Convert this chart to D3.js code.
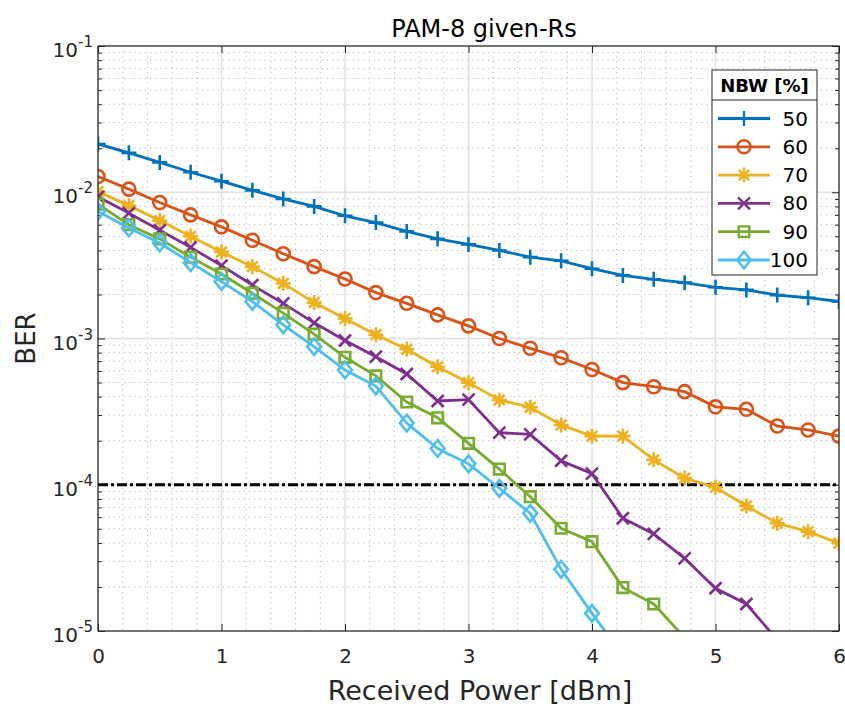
<!DOCTYPE html>
<html>
<head>
<meta charset="utf-8">
<script src="https://cdn.jsdelivr.net/npm/d3@7"></script>
<style>
  body { margin: 0; background: #fff; }
  svg { font-family: "DejaVu Sans", sans-serif; }
</style>
</head>
<body>
<div id="chart"></div>
<script>
// received power [dBm]
const power = [0, 0.25, 0.5, 0.75, 1, 1.25, 1.5, 1.75, 2, 2.25, 2.5, 2.75, 3,
               3.25, 3.5, 3.75, 4, 4.25, 4.5, 4.75, 5, 5.25, 5.5, 5.75, 6];

const nbw = ["50", "60", "70", "80", "90", "100"];

const ber50 = [0.0214, 0.0186, 0.0160, 0.0137, 0.0119, 0.0103, 0.0090, 0.0080, 0.0069,
               0.0062, 0.0054, 0.0048, 0.0044, 0.0040, 0.0036, 0.0034, 0.0030, 0.0027,
               0.00254, 0.00241, 0.00224, 0.00215, 0.00198, 0.00190, 0.00179];
const ber60 = [0.0128, 0.0105, 0.0085, 0.0070, 0.0058, 0.0047, 0.0038, 0.0031, 0.00255,
               0.00206, 0.00174, 0.00145, 0.00122, 0.00100, 0.000857, 0.000739, 0.000614,
               0.000499, 0.000468, 0.000433, 0.000341, 0.000328, 0.000252, 0.000237, 0.000215];
const ber70 = [0.0101, 0.0081, 0.0064, 0.0050, 0.0039, 0.0031, 0.00238, 0.00176, 0.00137,
               0.00106, 0.000844, 0.000641, 0.000499, 0.000380, 0.000339, 0.000256, 0.000215,
               0.000215, 0.000148, 0.000111, 0.0000961, 0.0000716, 0.0000545, 0.0000478, 0.0000398];
const ber80 = [0.0093, 0.0072, 0.0055, 0.0042, 0.00315, 0.00232, 0.00174, 0.00128, 0.000969,
               0.000751, 0.000572, 0.000374, 0.000382, 0.000227, 0.000221, 0.000146, 0.000119,
               0.0000590, 0.0000461, 0.0000314, 0.0000196, 0.0000153, 0.0000087];
const ber90 = [0.0083, 0.0060, 0.0048, 0.0036, 0.00276, 0.00204, 0.00149, 0.00107, 0.000744,
               0.000555, 0.000368, 0.000287, 0.000192, 0.000128, 0.0000829, 0.0000504, 0.0000408,
               0.0000198, 0.0000153, 0.0000090];
const ber100 = [0.0074, 0.0057, 0.0045, 0.0033, 0.00245, 0.00179, 0.00124, 0.000879, 0.000609,
                0.000473, 0.000264, 0.000177, 0.000139, 0.0000946, 0.0000638, 0.0000264, 0.0000132,
                0.0000068];

const berLimit = 1e-4;

const xTicks = [0, 1, 2, 3, 4, 5, 6];
const yTicks = [1e-5, 1e-4, 1e-3, 1e-2, 1e-1];

const colors = ["#0072BD", "#D95319", "#EDB120", "#7E2F8E", "#77AC30", "#4DBEEE"];
const markers = ["plus", "circle", "star", "cross", "square", "diamond"];
const seriesData = [ber50, ber60, ber70, ber80, ber90, ber100];

const W = 845, H = 709;
const plot = {left: 98, right: 839, top: 46, bottom: 631};

const svg = d3.select('#chart').append('svg').attr('width', W).attr('height', H);

const x = d3.scaleLinear().domain([0, 6]).range([plot.left, plot.right]);
const y = d3.scaleLog().domain([1e-5, 1e-1]).range([plot.bottom, plot.top]);

svg.append('defs').append('clipPath').attr('id', 'clip')
    .append('rect')
    .attr('x', plot.left).attr('y', plot.top)
    .attr('width', plot.right - plot.left).attr('height', plot.bottom - plot.top);

// minor grid
const minorX = d3.range(0, 6.001, 0.2).filter(v => Math.abs(v - Math.round(v)) > 1e-6);
const minorY = [];
[1e-5, 1e-4, 1e-3, 1e-2].forEach(d => { for (let k = 2; k <= 9; k++) minorY.push(d * k); });

const grid = svg.append('g');
grid.selectAll('.mx').data(minorX).enter().append('line')
    .attr('x1', d => x(d)).attr('x2', d => x(d))
    .attr('y1', plot.top).attr('y2', plot.bottom)
    .attr('stroke', '#b8b8b8').attr('stroke-width', 1).attr('stroke-dasharray', '1.2 4');
grid.selectAll('.my').data(minorY).enter().append('line')
    .attr('x1', plot.left).attr('x2', plot.right)
    .attr('y1', d => y(d)).attr('y2', d => y(d))
    .attr('stroke', '#b8b8b8').attr('stroke-width', 1).attr('stroke-dasharray', '1.2 4');
// major grid
grid.selectAll('.gx').data(xTicks).enter().append('line')
    .attr('x1', d => x(d)).attr('x2', d => x(d))
    .attr('y1', plot.top).attr('y2', plot.bottom)
    .attr('stroke', '#e0e0e0').attr('stroke-width', 1.5);
grid.selectAll('.gy').data(yTicks).enter().append('line')
    .attr('x1', plot.left).attr('x2', plot.right)
    .attr('y1', d => y(d)).attr('y2', d => y(d))
    .attr('stroke', '#e0e0e0').attr('stroke-width', 1.5);

// axes with inward ticks
const axisColor = '#262626';
const xAxis = svg.append('g').attr('transform', `translate(0, ${plot.bottom})`)
    .call(d3.axisBottom(x).tickValues(xTicks).tickSizeInner(-7).tickSizeOuter(0)
        .tickPadding(18).tickFormat(d3.format('d')));
const xAxisTop = svg.append('g').attr('transform', `translate(0, ${plot.top})`)
    .call(d3.axisTop(x).tickValues(xTicks).tickSizeInner(-7).tickSizeOuter(0).tickFormat(''));
const yAxis = svg.append('g').attr('transform', `translate(${plot.left}, 0)`)
    .call(d3.axisLeft(y).tickValues(yTicks).tickSizeInner(-7).tickSizeOuter(0).tickFormat(''));
const yAxisRight = svg.append('g').attr('transform', `translate(${plot.right}, 0)`)
    .call(d3.axisRight(y).tickValues(yTicks).tickSizeInner(-7).tickSizeOuter(0).tickFormat(''));
const yMinorL = svg.append('g').attr('transform', `translate(${plot.left}, 0)`)
    .call(d3.axisLeft(y).tickValues(minorY).tickSizeInner(-4).tickSizeOuter(0).tickFormat(''));
const yMinorR = svg.append('g').attr('transform', `translate(${plot.right}, 0)`)
    .call(d3.axisRight(y).tickValues(minorY).tickSizeInner(-4).tickSizeOuter(0).tickFormat(''));

[xAxis, xAxisTop, yAxis, yAxisRight, yMinorL, yMinorR].forEach(a => {
    a.select('.domain').remove();
    a.selectAll('line').attr('stroke', axisColor).attr('stroke-width', 1);
});
xAxis.selectAll('text').attr('fill', axisColor).style('font-size', '20px')
    .style('font-family', '"DejaVu Sans", sans-serif');

// y tick labels 10^n
const yLab = svg.append('g');
yTicks.forEach(v => {
    const t = yLab.append('text')
        .attr('x', plot.left - 5).attr('y', y(v) + 11)
        .attr('text-anchor', 'end').attr('fill', axisColor)
        .style('font-size', '20px');
    t.append('tspan').text('10');
    t.append('tspan').attr('dy', -10).style('font-size', '15px').text(Math.round(Math.log10(v)));
});

// series
const markerPath = {
    plus: 'M-7.5,0H7.5M0,-7.5V7.5',
    cross: 'M-6,-6L6,6M-6,6L6,-6',
    star: 'M-7.5,0H7.5M0,-7.5V7.5M-5.3,-5.3L5.3,5.3M-5.3,5.3L5.3,-5.3',
    circle: 'M6.5,0A6.5,6.5 0 1,1 -6.5,0A6.5,6.5 0 1,1 6.5,0Z',
    square: 'M-5.3,-5.3H5.3V5.3H-5.3Z',
    diamond: 'M0,-8.3L6.8,0L0,8.3L-6.8,0Z'
};

const plotArea = svg.append('g').attr('clip-path', 'url(#clip)');

plotArea.append('line')
    .attr('x1', plot.left).attr('x2', plot.right)
    .attr('y1', y(berLimit)).attr('y2', y(berLimit))
    .attr('stroke', '#000').attr('stroke-width', 2.8)
    .attr('stroke-dasharray', '10 3 3 3');

const line = d3.line().x(d => x(d[0])).y(d => y(d[1]));

seriesData.forEach((vals, i) => {
    const pts = vals.map((v, j) => [power[j], v]);
    plotArea.append('path')
        .datum(pts)
        .attr('fill', 'none')
        .attr('stroke', colors[i])
        .attr('stroke-width', 2.8)
        .attr('d', line);
    plotArea.selectAll(`.m${i}`)
        .data(pts)
        .enter()
        .append('path')
        .attr('transform', d => `translate(${x(d[0])},${y(d[1])})`)
        .attr('d', markerPath[markers[i]])
        .attr('fill', 'none')
        .attr('stroke', colors[i])
        .attr('stroke-width', 2.6);
});

// axes box
svg.append('rect')
    .attr('x', plot.left).attr('y', plot.top)
    .attr('width', plot.right - plot.left).attr('height', plot.bottom - plot.top)
    .attr('fill', 'none').attr('stroke', axisColor).attr('stroke-width', 1.2);

// legend
const lg = {left: 712, right: 817, top: 70, sep: 100, bottom: 275};
const legend = svg.append('g');
legend.append('rect')
    .attr('x', lg.left).attr('y', lg.top)
    .attr('width', lg.right - lg.left).attr('height', lg.bottom - lg.top)
    .attr('fill', '#fff').attr('stroke', axisColor).attr('stroke-width', 1);
legend.append('line')
    .attr('x1', lg.left).attr('x2', lg.right)
    .attr('y1', lg.sep).attr('y2', lg.sep)
    .attr('stroke', axisColor).attr('stroke-width', 1);
legend.append('text')
    .attr('x', (lg.left + lg.right) / 2).attr('y', 92)
    .attr('text-anchor', 'middle')
    .style('font-size', '18px').style('font-weight', 'bold')
    .text('NBW [%]');

nbw.forEach((name, i) => {
    const ly = 118.5 + i * 28.3;
    legend.append('line')
        .attr('x1', 718).attr('x2', 770)
        .attr('y1', ly).attr('y2', ly)
        .attr('stroke', colors[i]).attr('stroke-width', 2.8);
    legend.append('path')
        .attr('transform', `translate(744,${ly})`)
        .attr('d', markerPath[markers[i]])
        .attr('fill', 'none').attr('stroke', colors[i]).attr('stroke-width', 2.4);
    legend.append('text')
        .attr('x', 808).attr('y', ly + 7)
        .attr('text-anchor', 'end')
        .style('font-size', '20px').attr('fill', '#000')
        .text(name);
});

// titles
svg.append('text')
    .attr('x', 484).attr('y', 37)
    .attr('text-anchor', 'middle').attr('fill', '#000')
    .style('font-size', '24px')
    .text('PAM-8 given-Rs');
svg.append('text')
    .attr('x', 480).attr('y', 700)
    .attr('text-anchor', 'middle').attr('fill', axisColor)
    .style('font-size', '27px')
    .text('Received Power [dBm]');
svg.append('text')
    .attr('transform', `translate(35, ${(plot.top + plot.bottom) / 2}) rotate(-90)`)
    .attr('text-anchor', 'middle').attr('fill', axisColor)
    .style('font-size', '26px')
    .text('BER');
</script>
</body>
</html>
